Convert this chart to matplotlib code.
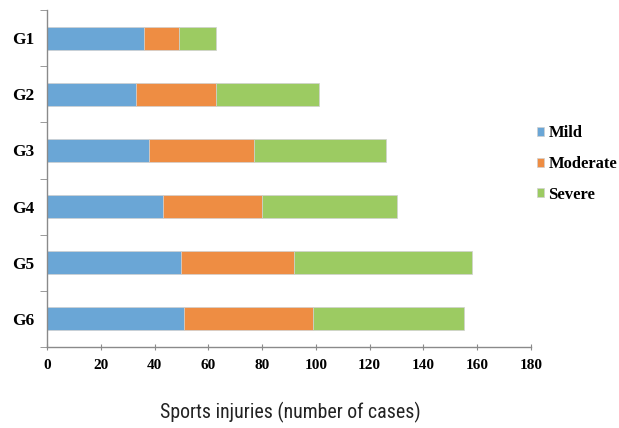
import matplotlib
matplotlib.use("Agg")
import matplotlib.pyplot as plt
from matplotlib.font_manager import FontProperties
import numpy as np

# === Data ===
groups = ["G1", "G2", "G3", "G4", "G5", "G6"]
mild = [36, 33, 38, 43, 50, 51]
moderate = [13, 30, 39, 37, 42, 48]
severe = [14, 38, 49, 50, 66, 56]

colors = {"Mild": "#6aa6d6", "Moderate": "#ee8d43", "Severe": "#9ccb62"}


def serif(size):
    return FontProperties(family=["Liberation Serif", "DejaVu Serif"], weight="bold", size=size)


fig = plt.figure(figsize=(6.19, 4.28), dpi=100)
ax = fig.add_axes([47 / 619, 81 / 428, 484 / 619, 337 / 428])

y = np.arange(len(groups))
left = np.zeros(len(groups))
for name, vals in [("Mild", mild), ("Moderate", moderate), ("Severe", severe)]:
    ax.barh(y, vals, left=left, height=0.41, color=colors[name],
            edgecolor="#d0d0d0", linewidth=0.5, label=name)
    left += np.array(vals)

ax.set_xlim(0, 180)
ax.set_ylim(len(groups) - 0.5, -0.5)
ax.set_xticks(np.arange(0, 181, 20))
ax.set_yticks(y)
ax.set_yticklabels(groups)
ax.set_yticks(np.arange(-0.5, len(groups)), minor=True)

for s in ["top", "right"]:
    ax.spines[s].set_visible(False)
for s in ["left", "bottom"]:
    ax.spines[s].set_color("#8a8a8a")
    ax.spines[s].set_linewidth(1.0)

ax.tick_params(axis="y", which="major", length=0, pad=9)
ax.tick_params(axis="y", which="minor", length=5, color="#8a8a8a")
ax.tick_params(axis="x", which="major", length=5, direction="inout", color="#8a8a8a", pad=6)

for lbl in ax.get_yticklabels():
    lbl.set_fontproperties(serif(12.5))
for lbl in ax.get_xticklabels():
    lbl.set_fontproperties(serif(11))

fig.text(0.469, 0.012, "Sports injuries (number of cases)",
         ha="center", va="bottom", fontsize=14.3,
         family=["Roboto Condensed", "Archivo Narrow", "Liberation Sans Narrow", "Roboto"],
         color="#222222")

leg = ax.legend(loc="center left", bbox_to_anchor=(1.0, 0.543), frameon=False,
                prop=serif(12), borderaxespad=0.0, borderpad=0.35,
                handlelength=0.45, handleheight=0.45, handletextpad=0.25,
                labelspacing=0.88)

plt.savefig("out.png", dpi=100)
plt.close()
